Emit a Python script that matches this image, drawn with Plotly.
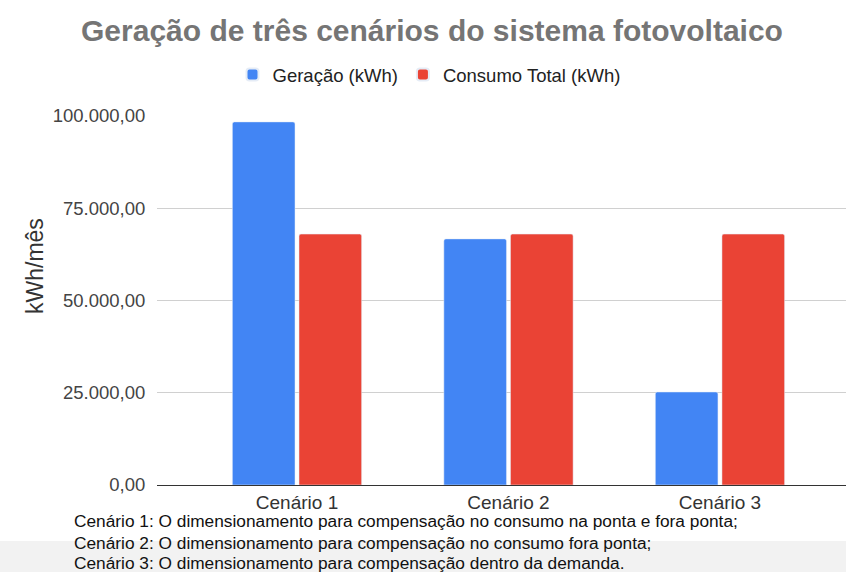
import plotly.graph_objects as go

categories = ["Cenário 1", "Cenário 2", "Cenário 3"]
geracao = [98400, 66700, 25200]
consumo = [68000, 68000, 68000]
series_names = ["Geração (kWh)", "Consumo Total (kWh)"]
notes = [
    "Cenário 1: O dimensionamento para compensação no consumo na ponta e fora ponta;",
    "Cenário 2: O dimensionamento para compensação no consumo fora ponta;",
    "Cenário 3: O dimensionamento para compensação dentro da demanda.",
]
y_ticks = [0, 25000, 50000, 75000, 100000]

W, H = 846, 572
L, R, T, B = 157, 0, 116, 87
PW, PH = W - L - R, H - T - B

def py(pixel):
    return (H - B - pixel) / PH

def px(pixel):
    return (pixel - L) / PW

fig = go.Figure()
fig.add_trace(go.Bar(x=categories, y=geracao, name=series_names[0],
                     marker=dict(color="#4285F4", cornerradius=2)))
fig.add_trace(go.Bar(x=categories, y=consumo, name=series_names[1],
                     marker=dict(color="#EA4335", cornerradius=2)))

fig.update_layout(
    width=W, height=H,
    margin=dict(l=L, r=R, t=T, b=B),
    paper_bgcolor="white", plot_bgcolor="white",
    separators=",.",
    barmode="group", bargap=0.37, bargroupgap=0.06,
    font=dict(family="Liberation Sans, Arial, sans-serif", color="#444"),
    title=dict(text="<b>Geração de três cenários do sistema fotovoltaico</b>",
               x=432 / W, xref="container", xanchor="center",
               y=1 - 30 / H, yref="container", yanchor="middle",
               font=dict(size=30, color="#757575")),
    legend=dict(orientation="h", x=429 / W, xref="container", xanchor="center",
                y=1 - 75 / H, yref="container", yanchor="middle",
                font=dict(size=18.5, color="#222"), itemwidth=30,
                itemsizing="constant", traceorder="normal"),
    showlegend=True,
)
fig.update_xaxes(range=[-0.662, 2.596], showgrid=False, showline=True,
                 linecolor="#333", linewidth=1,
                 tickfont=dict(size=19, color="#333"), fixedrange=True)
fig.update_yaxes(range=[0, 100000], tickvals=y_ticks, tickformat=",.2f",
                 showgrid=True, gridcolor="#d0d0d0", gridwidth=1,
                 zeroline=False, showline=False,
                 ticks="outside", ticklen=7, tickcolor="rgba(0,0,0,0)",
                 tickfont=dict(size=18.5, color="#444"))

# y axis title
fig.add_annotation(text="kWh/mês", xref="paper", yref="paper",
                   x=px(20), y=py(266), textangle=-90, showarrow=False,
                   font=dict(size=23, color="#333"))

# gray band at bottom
fig.add_shape(type="rect", xref="paper", yref="paper",
              x0=px(0), x1=1, y0=py(541), y1=py(H),
              fillcolor="#f2f2f2", line=dict(width=0), layer="below")

for i, (txt, yy) in enumerate(zip(notes, [521, 543, 563])):
    fig.add_annotation(text=txt, xref="paper", yref="paper",
                       x=px(72), y=py(yy), xanchor="left", yanchor="middle",
                       showarrow=False, font=dict(size=17.3, color="#111"))

fig.write_html("out.html", config={"displayModeBar": False},
               post_script="document.body.style.margin='0';")
